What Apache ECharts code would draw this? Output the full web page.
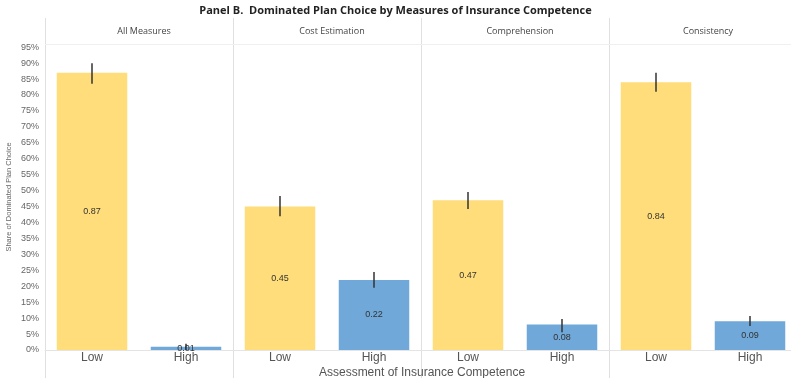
<!DOCTYPE html>
<html>
<head>
<meta charset="utf-8">
<script src="https://cdn.jsdelivr.net/npm/echarts@6/dist/echarts.min.js"></script>
<style>
  html, body { margin: 0; padding: 0; background: #fff; }
  #chart { width: 791px; height: 378px; }
</style>
</head>
<body>
<div id="chart"></div>
<script>
// Data
const panels = ['All Measures', 'Cost Estimation', 'Comprehension', 'Consistency'];
const levels = ['Low', 'High'];
const shareLow = [0.87, 0.45, 0.47, 0.84];
const shareHigh = [0.01, 0.22, 0.08, 0.09];
const errLowMin = [0.835, 0.42, 0.442, 0.81];
const errLowMax = [0.90, 0.483, 0.496, 0.87];
const errHighMin = [0.0, 0.195, 0.056, 0.075];
const errHighMax = [0.02, 0.245, 0.097, 0.107];

const chart = echarts.init(document.getElementById('chart'), null, { renderer: 'canvas' });

const panelLeft = 45, panelWidth = 188, gridTop = 44, gridBottom = 28;
const yellow = '#fedd7a', blue = '#6fa8d9';

const grids = [], xAxes = [], yAxes = [], series = [], titles = [];

titles.push({
    text: 'Panel B.  Dominated Plan Choice by Measures of Insurance Competence',
    left: 'center', top: 0,
    textStyle: { fontFamily: 'Open Sans', fontSize: 11, fontWeight: 'bold', color: '#222' }
});

panels.forEach((name, i) => {
    const left = panelLeft + i * panelWidth;
    grids.push({ left: left, top: gridTop, width: panelWidth, bottom: gridBottom, containLabel: false, outerBoundsMode: 'none' });
    titles.push({
        text: name, left: left + panelWidth / 2, top: 22, textAlign: 'center',
        textStyle: { fontFamily: 'Open Sans', fontSize: 9, fontWeight: 'normal', color: '#444' }
    });
    xAxes.push({
        type: 'category', gridIndex: i, data: levels,
        axisLine: { show: true, lineStyle: { color: '#e4e4e4' } },
        axisTick: { show: false },
        axisLabel: { fontFamily: 'Liberation Sans', fontSize: 12, color: '#555', margin: 2 }
    });
    yAxes.push({
        type: 'value', gridIndex: i, min: 0, max: 0.96, interval: 0.05,
        show: i === 0,
        axisLine: { show: false }, axisTick: { show: false },
        splitLine: { show: false },
        axisLabel: {
            show: i === 0, showMaxLabel: false,
            fontFamily: 'Liberation Sans', fontSize: 9, color: '#666', margin: 6,
            formatter: v => Math.round(v * 100) + '%'
        },
        name: i === 0 ? 'Share of Dominated Plan Choice' : '',
        nameLocation: 'middle', nameGap: 32, nameRotate: 90,
        nameTextStyle: { fontFamily: 'Liberation Sans', fontSize: 7.5, color: '#666' }
    });
    series.push({
        type: 'bar', xAxisIndex: i, yAxisIndex: i,
        barCategoryGap: '25%',
        data: [
            { value: shareLow[i], itemStyle: { color: yellow } },
            { value: shareHigh[i], itemStyle: { color: blue } }
        ],
        label: {
            show: true, position: 'inside',
            fontFamily: 'Liberation Sans', fontSize: 9, color: '#333',
            formatter: p => p.value.toFixed(2)
        },
        emphasis: { disabled: true }
    });
    series.push({
        type: 'custom', xAxisIndex: i, yAxisIndex: i, z: 5,
        data: [[0, errLowMin[i], errLowMax[i]], [1, errHighMin[i], errHighMax[i]]],
        renderItem: (params, api) => {
            const p1 = api.coord([api.value(0), api.value(1)]);
            const p2 = api.coord([api.value(0), api.value(2)]);
            return {
                type: 'line',
                shape: { x1: p1[0], y1: p1[1], x2: p2[0], y2: p2[1] },
                style: { stroke: '#333', lineWidth: 1.5 }
            };
        }
    });
});

titles.push({
    text: 'Assessment of Insurance Competence', left: 417, top: 362, textAlign: 'center',
    textStyle: { fontFamily: 'Liberation Sans', fontSize: 12, fontWeight: 'normal', color: '#555' }
});

// panel borders and header separator
const graphics = [];
for (let i = 0; i < panels.length; i++) {
    const x = panelLeft + i * panelWidth + 0.5;
    graphics.push({ type: 'line', shape: { x1: x, y1: 18, x2: x, y2: 378 }, style: { stroke: '#e0e0e0', lineWidth: 1 }, silent: true });
}
graphics.push({ type: 'line', shape: { x1: panelLeft, y1: gridTop + 0.5, x2: 791, y2: gridTop + 0.5 }, style: { stroke: '#f0f0f0', lineWidth: 1 }, silent: true });

chart.setOption({
    animation: false,
    backgroundColor: '#fff',
    title: titles,
    grid: grids,
    xAxis: xAxes,
    yAxis: yAxes,
    series: series,
    graphic: graphics
});
</script>
</body>
</html>
